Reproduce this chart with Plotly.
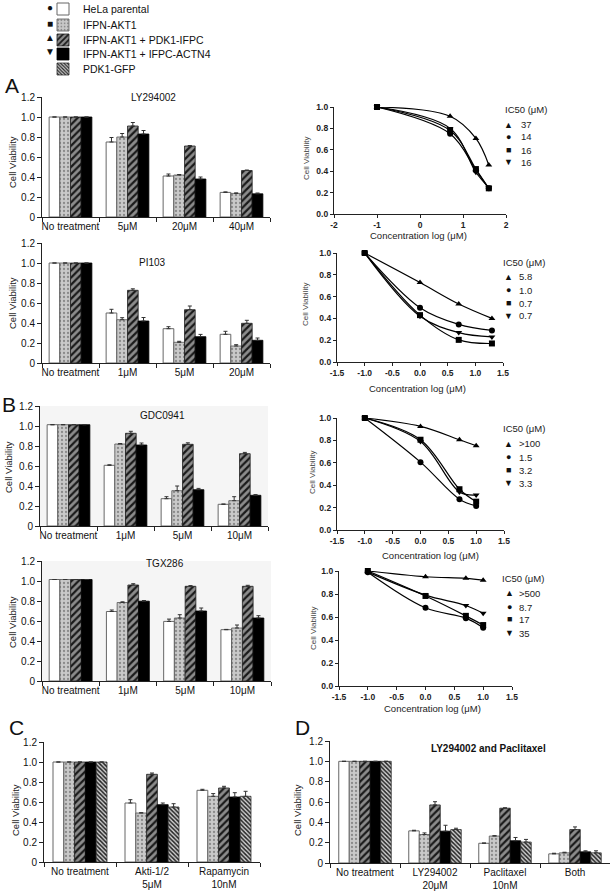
import plotly.graph_objects as go

W, H = 613, 893
FONT = "Liberation Sans, Arial, sans-serif"

# ---------------- data ----------------
series_names = ["HeLa parental", "IFPN-AKT1", "IFPN-AKT1 + PDK1-IFPC",
                "IFPN-AKT1 + IFPC-ACTN4", "PDK1-GFP"]

# Panel A - LY294002 bars
ly_cats = ["No treatment", "5μM", "20μM", "40μM"]
ly_vals = [[1.0, 0.75, 0.41, 0.246],
           [1.0, 0.80, 0.42, 0.236],
           [1.0, 0.91, 0.71, 0.465],
           [1.0, 0.83, 0.38, 0.232]]
ly_err = [[0, 0.045, 0.02, 0.005],
          [0, 0.035, 0.005, 0.005],
          [0, 0.035, 0.005, 0.005],
          [0, 0.035, 0.02, 0.008]]

# Panel A - PI103 bars
pi_cats = ["No treatment", "1μM", "5μM", "20μM"]
pi_vals = [[1.0, 0.50, 0.343, 0.287],
           [1.0, 0.433, 0.207, 0.17],
           [1.0, 0.727, 0.533, 0.397],
           [1.0, 0.42, 0.263, 0.227]]
pi_err = [[0, 0.037, 0.02, 0.03],
          [0, 0.02, 0.01, 0.013],
          [0, 0.015, 0.037, 0.03],
          [0, 0.035, 0.023, 0.023]]

# Panel B - GDC0941 bars
gdc_cats = ["No treatment", "1μM", "5μM", "10μM"]
gdc_vals = [[1.013, 0.607, 0.273, 0.217],
            [1.013, 0.82, 0.353, 0.253],
            [1.013, 0.927, 0.817, 0.723],
            [1.013, 0.81, 0.363, 0.307]]
gdc_err = [[0, 0.005, 0.02, 0.003],
           [0, 0.005, 0.047, 0.04],
           [0, 0.02, 0.015, 0.013],
           [0, 0.02, 0.013, 0.007]]

# Panel B - TGX286 bars
tgx_cats = ["No treatment", "1μM", "5μM", "10μM"]
tgx_vals = [[1.015, 0.695, 0.596, 0.513],
            [1.015, 0.785, 0.63, 0.53],
            [1.015, 0.96, 0.947, 0.947],
            [1.015, 0.798, 0.70, 0.63]]
tgx_err = [[0, 0.015, 0.023, 0.003],
           [0, 0.007, 0.033, 0.03],
           [0, 0.013, 0.007, 0.01],
           [0, 0.007, 0.03, 0.023]]

# Panel C bars
c_cats = ["No treatment", "Akti-1/2<br>5μM", "Rapamycin<br>10nM"]
c_vals = [[1.0, 0.59, 0.717],
          [1.0, 0.49, 0.657],
          [1.0, 0.877, 0.74],
          [1.0, 0.573, 0.65],
          [1.0, 0.55, 0.657]]
c_err = [[0, 0.033, 0.01],
         [0, 0.003, 0.027],
         [0, 0.013, 0.017],
         [0, 0.017, 0.043],
         [0, 0.033, 0.05]]

# Panel D bars
d_cats = ["No treatment", "LY294002<br>20μM", "Paclitaxel<br>10nM", "Both"]
d_vals = [[1.0, 0.316, 0.194, 0.09],
          [1.0, 0.28, 0.265, 0.10],
          [1.0, 0.571, 0.539, 0.329],
          [1.0, 0.313, 0.219, 0.11],
          [1.0, 0.329, 0.206, 0.10]]
d_err = [[0, 0.006, 0.003, 0.006],
         [0, 0.016, 0.004, 0.006],
         [0, 0.032, 0.004, 0.026],
         [0, 0.058, 0.032, 0.01],
         [0, 0.013, 0.026, 0.02]]

# dose-response points (log concentration, μM); order: HeLa, AKT1, PDK1-IFPC, ACTN4
ly_logx = [-1, 0.7, 1.3, 1.6]
ly_resp = [[1.0, 0.75, 0.41, 0.24],
           [1.0, 0.78, 0.42, 0.24],
           [1.0, 0.913, 0.706, 0.458],
           [1.0, 0.80, 0.39, 0.245]]
ly_ic50 = ["37", "14", "16", "16"]

pi_logx = [-1, 0, 0.7, 1.3]
pi_resp = [[1.0, 0.498, 0.345, 0.29],
           [1.0, 0.43, 0.203, 0.17],
           [1.0, 0.729, 0.532, 0.40],
           [1.0, 0.42, 0.27, 0.23]]
pi_ic50 = ["5.8", "1.0", "0.7", "0.7"]

gdc_logx = [-1, 0, 0.7, 1.0]
gdc_resp = [[1.0, 0.606, 0.275, 0.215],
            [1.0, 0.806, 0.364, 0.253],
            [1.0, 0.925, 0.806, 0.752],
            [1.0, 0.79, 0.34, 0.313]]
gdc_ic50 = [">100", "1.5", "3.2", "3.3"]

tgx_logx = [-1, 0, 0.7, 1.0]
tgx_resp = [[0.99, 0.68, 0.59, 0.507],
            [1.0, 0.783, 0.61, 0.53],
            [1.0, 0.95, 0.936, 0.92],
            [0.99, 0.79, 0.70, 0.632]]
tgx_ic50 = [">500", "8.7", "17", "35"]

bar_ticks = [0, 0.2, 0.4, 0.6, 0.8, 1.0, 1.2]
bar_ticktext = ["0", "0.2", "0.4", "0.6", "0.8", "1.0", "1.2"]
line_ticks = [0, 0.2, 0.4, 0.6, 0.8, 1.0]
line_ticktext = ["0.0", "0.2", "0.4", "0.6", "0.8", "1.0"]

# ---------------- styles ----------------
bar_styles = [
    dict(color="white", line=dict(color="#666", width=1)),
    dict(color="#c9c9c9", line=dict(color="#555", width=0.8),
         pattern=dict(shape=".", fgcolor="#8a8a8a", bgcolor="#c9c9c9", size=4, solidity=0.25)),
    dict(color="#8c8c8c", line=dict(color="#222", width=0.8),
         pattern=dict(shape="/", fgcolor="#1a1a1a", bgcolor="#8c8c8c", size=5, solidity=0.45)),
    dict(color="black", line=dict(color="black", width=0.8)),
    dict(color="#b5b5b5", line=dict(color="#333", width=0.8),
         pattern=dict(shape="\\", fgcolor="#222", bgcolor="#d0d0d0", size=3, solidity=0.5)),
]
line_symbols = ["circle", "square", "triangle-up", "triangle-down"]
legend_keys = ["legend", "legend2", "legend3", "legend4", "legend5"]


def px_x(a, b):
    return [a / W, b / W]


def px_y(top, bottom):
    return [1 - bottom / H, 1 - top / H]


fig = go.Figure()
layout = dict()
annotations = []
shapes = []


def bar_panel(idx, cats, vals, errs, xdom, ydom, legend=False):
    for i, (v, e) in enumerate(zip(vals, errs)):
        fig.add_trace(go.Bar(
            x=cats, y=v, name=series_names[i],
            marker=bar_styles[i],
            error_y=dict(type="data", array=e, arrayminus=[0] * len(e), symmetric=False,
                         color="#333", thickness=1, width=2),
            xaxis="x%d" % idx, yaxis="y%d" % idx,
            showlegend=legend, legend=legend_keys[i],
        ))
    layout["xaxis%d" % idx] = dict(
        domain=px_x(*xdom), anchor="y%d" % idx, showline=True, linecolor="#222", linewidth=1,
        ticks="outside", tickson="boundaries", ticklen=4, tickcolor="#222", tickangle=0,
        automargin=False,
        tickfont=dict(family=FONT, size=10, color="#111"), showgrid=False, zeroline=False)
    layout["yaxis%d" % idx] = dict(
        domain=px_y(*ydom), anchor="x%d" % idx, range=[0, 1.2], showline=True,
        linecolor="#222", linewidth=1, ticks="outside", ticklen=4, tickcolor="#222",
        tickvals=bar_ticks, ticktext=bar_ticktext, showgrid=False, zeroline=False,
        automargin=False, tickfont=dict(family=FONT, size=10, color="#111"))


def line_panel(idx, logx, resp, xdom, ydom, xrange, xticks, xticktext):
    for i, r in enumerate(resp):
        fig.add_trace(go.Scatter(
            x=logx, y=r, mode="lines+markers",
            line=dict(color="black", width=1.2, shape="spline", smoothing=1.0),
            marker=dict(symbol=line_symbols[i], size=6, color="black"),
            xaxis="x%d" % idx, yaxis="y%d" % idx, showlegend=False, cliponaxis=False,
        ))
    tf = dict(family=FONT, size=8.5, color="#222", weight="bold")
    layout["xaxis%d" % idx] = dict(
        domain=px_x(*xdom), anchor="y%d" % idx, range=xrange, showline=True, linecolor="#222",
        linewidth=1.2, ticks="outside", ticklen=3, tickcolor="#222", tickvals=xticks,
        ticktext=xticktext, tickfont=tf, showgrid=False, zeroline=False, automargin=False,
        tickangle=0)
    layout["yaxis%d" % idx] = dict(
        domain=px_y(*ydom), anchor="x%d" % idx, range=[0, 1.0], showline=True, linecolor="#222",
        linewidth=1.2, ticks="outside", ticklen=3, tickcolor="#222", tickvals=line_ticks,
        ticktext=line_ticktext, tickfont=tf, showgrid=False, zeroline=False, automargin=False)


def ann(text, x, y, size=10, bold=False, color="#111", xanchor="center", angle=0):
    annotations.append(dict(text=text, x=x / W, y=1 - y / H, xref="paper", yref="paper",
                            showarrow=False, xanchor=xanchor, yanchor="middle", textangle=angle,
                            font=dict(family=FONT, size=size, color=color,
                                      weight="bold" if bold else "normal")))


def ic50_legend(x_head, y_head, x_sym, x_val, ys, labels):
    ann("IC50 (μM)", x_head, y_head, size=9.5, xanchor="left", color="#222")
    for sym, lab, yy in zip(["▲", "●", "■", "▼"], labels, ys):
        ann(sym, x_sym, yy, size=9, color="#111")
        ann(lab, x_val, yy, size=9.5, xanchor="left", color="#222")


# ---------------- panels ----------------
bar_panel(1, ly_cats, ly_vals, ly_err, (42, 270), (97, 217))
bar_panel(3, pi_cats, pi_vals, pi_err, (42, 270), (243, 363))
bar_panel(5, gdc_cats, gdc_vals, gdc_err, (40, 268), (406, 526))
bar_panel(7, tgx_cats, tgx_vals, tgx_err, (42, 271), (561, 681))
bar_panel(9, c_cats, c_vals, c_err, (44, 260), (742, 862), legend=True)
bar_panel(10, d_cats, d_vals, d_err, (330, 610), (741, 863))

half = [-1.5, -1.0, -0.5, 0, 0.5, 1.0, 1.5]
half_txt = ["-1.5", "-1.0", "-0.5", "0.0", "0.5", "1.0", "1.5"]
line_panel(2, ly_logx, ly_resp, (334, 506), (107, 214), [-2, 2], [-2, -1, 0, 1, 2],
           ["-2", "-1", "0", "1", "2"])
line_panel(4, pi_logx, pi_resp, (337, 503), (253, 362), [-1.5, 1.5], half, half_txt)
line_panel(6, gdc_logx, gdc_resp, (337, 504), (418, 530), [-1.5, 1.5], half, half_txt)
line_panel(8, tgx_logx, tgx_resp, (339, 512), (571, 686), [-1.5, 1.5], half, half_txt)

# light background of the B bar panels
for idx in (5, 7):
    shapes.append(dict(type="rect", xref="x%d domain" % idx, yref="y%d domain" % idx,
                       x0=0, x1=1, y0=0, y1=1, fillcolor="#f5f5f5", line=dict(width=0),
                       layer="below"))

# titles
ann("LY294002", 153, 97)
ann("PI103", 152, 262)
ann("GDC0941", 163, 415)
ann("TGX286", 165, 563)
ann("LY294002 and Paclitaxel", 488, 748, size=10, bold=True)

# y titles
for x, y in [(12, 162), (12, 303), (8, 467), (12, 622), (15, 810), (297, 810)]:
    ann("Cell Viability", x, y, size=9.5, angle=-90, color="#222")
for x, y in [(307, 158), (305, 305), (312, 473), (313, 628)]:
    ann("Cell Viability", x, y, size=8, angle=-90, color="#444")
for x, y in [(418, 236), (417, 388), (430, 555), (432, 708)]:
    ann("Concentration log (μM)", x, y, size=9.5, color="#222")

ic50_legend(503, 109, 508, 519, [125, 137, 150, 162], ly_ic50)
ic50_legend(501, 262, 508, 517, [277, 290, 303, 316], pi_ic50)
ic50_legend(501, 428, 508, 517, [444, 457, 470, 483], gdc_ic50)
ic50_legend(500, 578, 509, 517, [593, 607, 619, 633], tgx_ic50)

# panel letters
ann("A", 12, 85, size=21)
ann("B", 9, 404, size=21)
ann("C", 16, 727, size=21)
ann("D", 302, 727, size=21)

# main legend symbols
for sym, yy in zip(["●", "■", "▲", "▼"], [7, 23, 38, 52]):
    ann(sym, 50, yy, size=10)

for i, yy in enumerate([9, 25, 40, 54, 69]):
    layout[legend_keys[i]] = dict(
        x=43 / W, y=1 - yy / H, xref="container", yref="container",
        xanchor="left", yanchor="middle", bgcolor="rgba(0,0,0,0)",
        font=dict(family=FONT, size=10.5, color="#111"), itemwidth=30, borderwidth=0,
        tracegroupgap=0)

fig.update_layout(
    template="none",
    width=W, height=H, margin=dict(l=0, r=0, t=0, b=0, autoexpand=False),
    paper_bgcolor="white", plot_bgcolor="rgba(0,0,0,0)",
    barmode="group", bargap=0.25, bargroupgap=0,
    font=dict(family=FONT, size=10, color="#111"),
    annotations=annotations, shapes=shapes, **layout,
)

fig.write_html("out.html", config={"displayModeBar": False},
               post_script="document.body.style.margin='0';")
